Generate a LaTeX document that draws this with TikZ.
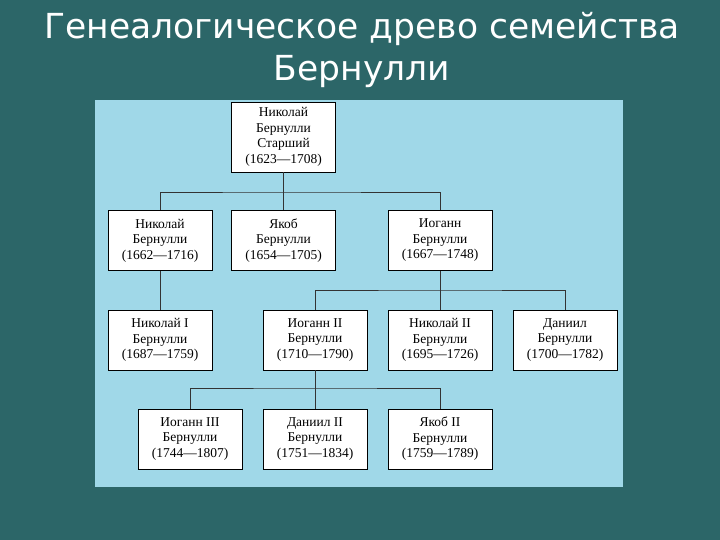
\documentclass[tikz,border=0pt]{standalone}
\usepackage{fontspec}
\setmainfont{Liberation Serif}
\newfontfamily\titlefont{DejaVu Sans}
\begin{document}
\begin{tikzpicture}[x=1pt,y=-1pt,
  box/.style={draw=black,fill=white,line width=0.6pt,minimum width=104pt,minimum height=60pt,align=center,inner sep=1pt,font=\fontsize{13.5}{15.5}\selectfont},
  ln/.style={draw=black!80,line width=0.6pt}]
\fill[fill={rgb,255:red,44;green,102;blue,104}] (0,0) rectangle (720,540);
\useasboundingbox (0,0) rectangle (720,540);
\node[text=white,font=\titlefont\fontsize{34.5}{42}\selectfont,align=center] (title) at (362,50) {Генеалогическое древо семейства\\Бернулли};
\fill[fill={rgb,255:red,160;green,216;blue,232}] (95,100) rectangle (623,487);
\node[box,minimum height=70pt] (n0) at (283.5,137) {Николай\\Бернулли\\Старший\\(1623—1708)};
\node[box] (a) at (160,240.5) {Николай\\Бернулли\\(1662—1716)};
\node[box] (b) at (283.5,240.5) {Якоб\\Бернулли\\(1654—1705)};
\node[box] (c) at (440,240.5) {Иоганн\\Бернулли\\(1667—1748)};
\node[box] (d) at (160,340) {Николай I\\Бернулли\\(1687—1759)};
\node[box] (e) at (315,340) {Иоганн II\\Бернулли\\(1710—1790)};
\node[box] (f) at (440,340) {Николай II\\Бернулли\\(1695—1726)};
\node[box] (g) at (565,340) {Даниил\\Бернулли\\(1700—1782)};
\node[box] (h) at (190,439) {Иоганн III\\Бернулли\\(1744—1807)};
\node[box] (i) at (315,439) {Даниил II\\Бернулли\\(1751—1834)};
\node[box] (j) at (440,439) {Якоб II\\Бернулли\\(1759—1789)};
\coordinate (j0) at (283.5,192);
\draw[ln] (n0.south) -- (j0);
\draw[ln] (a.north) |- (j0) -| (c.north);
\draw[ln] (j0) -- (b.north);
\draw[ln] (a.south) -- (d.north);
\coordinate (j1) at (440,290);
\draw[ln] (c.south) -- (j1);
\draw[ln] (e.north) |- (j1) -| (g.north);
\draw[ln] (j1) -- (f.north);
\coordinate (j2) at (315,388);
\draw[ln] (e.south) -- (j2);
\draw[ln] (h.north) |- (j2) -| (j.north);
\draw[ln] (j2) -- (i.north);
\end{tikzpicture}
\end{document}
